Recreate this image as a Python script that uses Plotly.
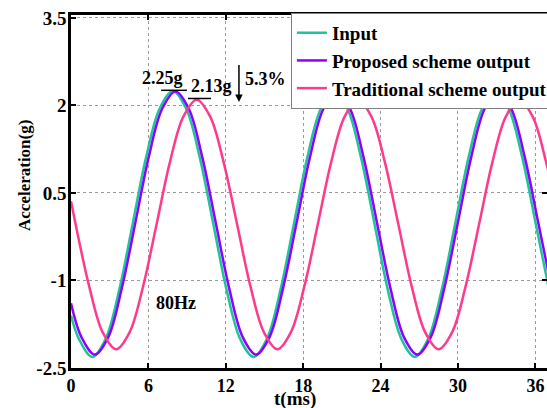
import plotly.graph_objects as go

# Input (teal) — samples
t_input = [0, 0.61, 1.65, 2.69, 3.73, 4.78, 5.82, 6.86, 7.90, 8.94, 9.98, 11.03, 12.07, 13.11,
           14.15, 15.19, 16.23, 17.28, 18.32, 19.36, 20.40, 21.44, 22.48, 23.53, 24.57, 25.61,
           26.65, 27.69, 28.73, 29.78, 30.82, 31.86, 32.90, 33.94, 34.98, 36.03, 37.07]
a_input = [-1.60, -2.00, -2.31, -2.00, -1.17, -0.03, 1.11, 1.94, 2.25, 1.94, 1.11, -0.03, -1.17, -2.00,
           -2.31, -2.00, -1.17, -0.03, 1.11, 1.94, 2.25, 1.94, 1.11, -0.03, -1.17, -2.00,
           -2.31, -2.00, -1.17, -0.03, 1.11, 1.94, 2.25, 1.94, 1.11, -0.03, -1.17]

# Proposed scheme output (purple)
t_prop = [0, 0.81, 1.85, 2.89, 3.93, 4.98, 6.02, 7.06, 8.10, 9.14, 10.18, 11.23, 12.27, 13.31,
          14.35, 15.39, 16.43, 17.48, 18.52, 19.56, 20.60, 21.64, 22.68, 23.73, 24.77, 25.81,
          26.85, 27.89, 28.93, 29.98, 31.02, 32.06, 33.10, 34.14, 35.18, 36.23, 37.27]
a_prop = [-1.39, -1.97, -2.27, -1.97, -1.14, -0.02, 1.11, 1.94, 2.24, 1.94, 1.11, -0.02, -1.14, -1.97,
          -2.27, -1.97, -1.14, -0.02, 1.11, 1.94, 2.24, 1.94, 1.11, -0.02, -1.14, -1.97,
          -2.27, -1.97, -1.14, -0.02, 1.11, 1.94, 2.24, 1.94, 1.11, -0.02, -1.14]

# Traditional scheme output (pink)
t_trad = [0, 1.42, 2.46, 3.50, 4.54, 5.58, 6.63, 7.67, 8.71, 9.75, 10.79, 11.83, 12.88, 13.92,
          14.96, 16.00, 17.04, 18.08, 19.13, 20.17, 21.21, 22.25, 23.29, 24.33, 25.38, 26.42,
          27.46, 28.50, 29.54, 30.58, 31.63, 32.67, 33.71, 34.75, 35.79, 36.83, 37.88]
a_trad = [0.36, -1.11, -1.89, -2.18, -1.89, -1.11, -0.04, 1.03, 1.81, 2.10, 1.81, 1.03, -0.04, -1.11,
          -1.89, -2.18, -1.89, -1.11, -0.04, 1.03, 1.81, 2.10, 1.81, 1.03, -0.04, -1.11,
          -1.89, -2.18, -1.89, -1.11, -0.04, 1.03, 1.81, 2.10, 1.81, 1.03, -0.04]

x_ticks = [0, 6, 12, 18, 24, 30, 36]
y_ticks = [-2.5, -1, 0.5, 2, 3.5]
y_tick_text = ["-2.5", "-1", "0.5", "2", "3.5"]

FONT = "Liberation Serif, Times New Roman, serif"

fig = go.Figure()
fig.add_trace(go.Scatter(x=t_input, y=a_input, mode="lines", name="Input",
                         line=dict(color="#1fc39c", width=2.5, shape="spline", smoothing=1.0)))
fig.add_trace(go.Scatter(x=t_prop, y=a_prop, mode="lines", name="Proposed scheme output",
                         line=dict(color="#8f00ff", width=2.5, shape="spline", smoothing=1.0)))
fig.add_trace(go.Scatter(x=t_trad, y=a_trad, mode="lines", name="Traditional scheme output",
                         line=dict(color="#ff3a8c", width=2.5, shape="spline", smoothing=1.0)))

axis_common = dict(showline=True, linecolor="black", linewidth=2.5, mirror="ticks",
                   ticks="inside", ticklen=5, tickwidth=1.5, tickcolor="black",
                   showgrid=True, gridcolor="#9a9a9a", griddash="dot", gridwidth=1,
                   zeroline=False)

fig.update_xaxes(range=[0, 36.9], tickvals=x_ticks,
                 tickfont=dict(family=FONT, size=18, color="black", weight="bold"),
                 **axis_common)
fig.update_yaxes(range=[-2.5, 3.551], tickvals=y_ticks, ticktext=y_tick_text,
                 ticklabelstandoff=-2,
                 tickfont=dict(family=FONT, size=19, color="black", weight="bold"),
                 **axis_common)

ann_font = dict(family=FONT, size=18, color="black", weight="bold")
annotations = [
    dict(x=0.4706, y=-0.0878, xref="paper", yref="paper", text="t(ms)", showarrow=False,
         xanchor="center", yanchor="middle",
         font=dict(family=FONT, size=19, color="black", weight="bold")),
    dict(x=-0.0966, y=0.544, xref="paper", yref="paper", text="Acceleration(g)", showarrow=False,
         textangle=-90, xanchor="center", yanchor="middle",
         font=dict(family=FONT, size=17, color="black", weight="bold")),
    dict(x=7.09, y=2.47, text="2.25g", showarrow=False, font=ann_font),
    dict(x=10.89, y=2.33, text="2.13g", showarrow=False, font=ann_font),
    dict(x=15.08, y=2.45, text="5.3%", showarrow=False, font=ann_font),
    dict(x=8.12, y=-1.38, text="80Hz", showarrow=False, font=ann_font),
    dict(x=13.02, y=2.06, ax=13.02, ay=2.72, xref="x", yref="y", axref="x", ayref="y",
         text="", showarrow=True, arrowhead=2, arrowsize=1, arrowwidth=1.5, arrowcolor="black"),
]
shapes = [
    dict(type="line", x0=6.98, x1=8.99, y0=2.26, y1=2.26, xref="x", yref="y",
         line=dict(color="black", width=1.5)),
    dict(type="line", x0=9.07, x1=10.85, y0=2.12, y1=2.12, xref="x", yref="y",
         line=dict(color="black", width=1.5)),
]

fig.update_layout(
    width=547, height=408,
    margin=dict(l=71, r=0, t=15, b=40, autoexpand=False),
    paper_bgcolor="white", plot_bgcolor="white",
    font=dict(family=FONT, size=17, color="black", weight="bold"),
    showlegend=True,
    legend=dict(x=0.462, y=1.006, xanchor="left", yanchor="top",
                bgcolor="white", bordercolor="#808080", borderwidth=1,
                font=dict(family=FONT, size=19, color="black", weight="bold"),
                tracegroupgap=0, itemwidth=30),
    annotations=annotations,
    shapes=shapes,
)

fig.write_html("out.html")
